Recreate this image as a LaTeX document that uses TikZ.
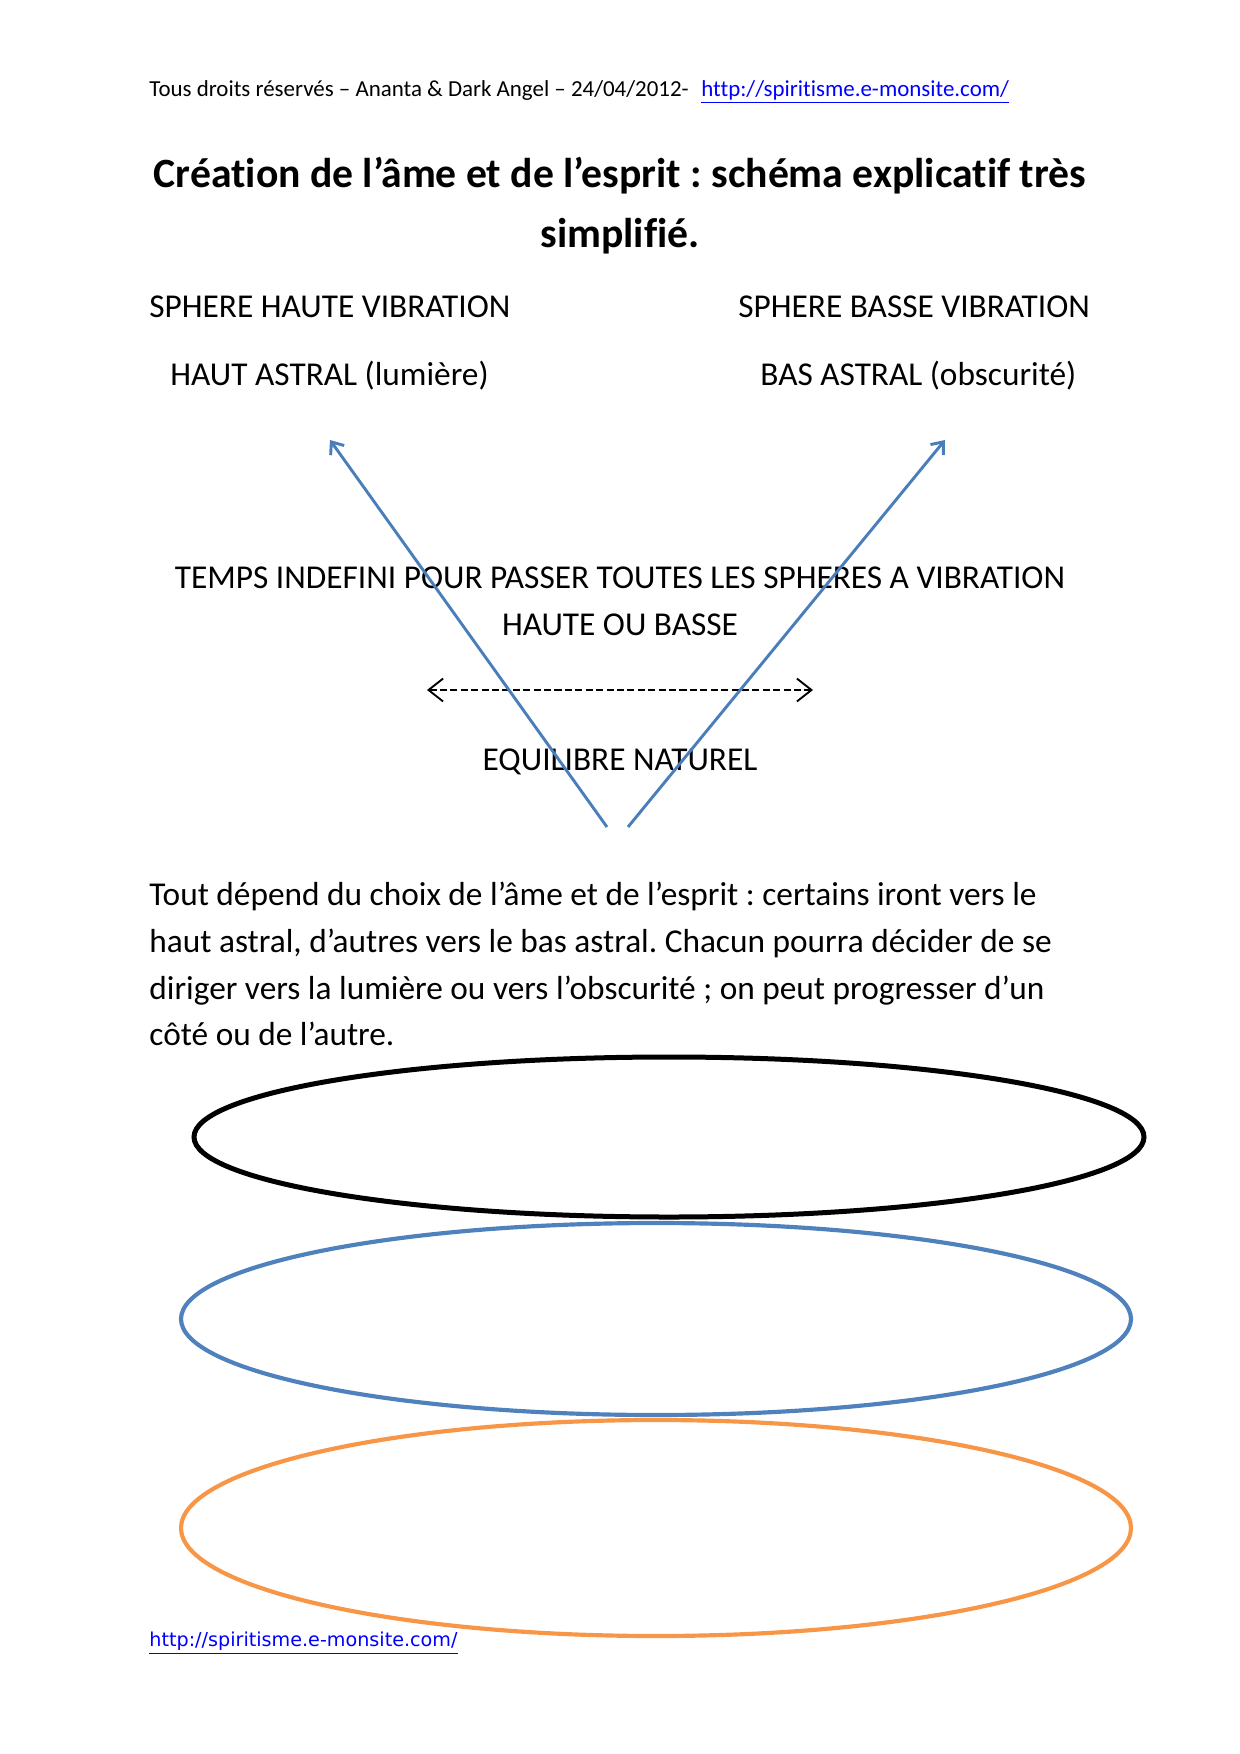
\documentclass[tikz,border=0pt]{standalone}
\usepackage{fontspec}
\setmainfont{Carlito}[RawFeature={-liga}]
\newfontfamily\footfont{DejaVu Sans}
\usetikzlibrary{arrows.meta}
\definecolor{wordblue}{HTML}{4A7EBB}
\definecolor{accblue}{HTML}{4F81BD}
\definecolor{accorange}{HTML}{F79646}
\definecolor{linkblue}{HTML}{0000FF}
\tikzset{
  txt/.style={inner sep=0pt, anchor=base west, font=\fontsize{16}{18}\selectfont},
  ctxt/.style={inner sep=0pt, anchor=base, font=\fontsize{16}{18}\selectfont},
  ttl/.style={inner sep=0pt, anchor=base, font=\fontsize{20}{24}\selectfont\bfseries},
  hdr/.style={inner sep=0pt, anchor=base west, font=\fontsize{11}{13}\selectfont},
  vline/.style={draw=wordblue, line width=1.4pt, -{Straight Barb[length=5pt,width=8pt]}},
  balance/.style={draw=black, line width=0.9pt, dash pattern=on 3.4pt off 1.6pt,
    {Straight Barb[length=7pt,width=11pt]}-{Straight Barb[length=7pt,width=11pt]}},
  orbit/.style={line width=2pt}
}
\begin{document}
\frenchspacing
\begin{tikzpicture}[x=0.48pt,y=-0.48pt]
\useasboundingbox (0,0) rectangle (1240,1754);
% header
\node[hdr] (head) at (149,96) {Tous droits réservés – Ananta \& Dark Angel – 24/04/2012-};
\node[hdr, text=linkblue] (headlink) at (701,96) {\underline{http://spiritisme.e-monsite.com/}};
% title
\node[ttl] (title1) at (620,187) {Création de l’âme et de l’esprit : schéma explicatif très};
\node[ttl] (title2) at (620,247) {simplifié.};
% spheres
\node[txt] (sphH) at (149,317) {SPHERE HAUTE VIBRATION};
\node[txt] (sphB) at (738,317) {SPHERE BASSE VIBRATION};
\node[txt] (astH) at (170,385) {HAUT ASTRAL (lumière)};
\node[txt] (astB) at (760,385) {BAS ASTRAL (obscurité)};
% middle texts
\node[ctxt] (temps1) at (620,588) {TEMPS INDEFINI POUR PASSER TOUTES LES SPHERES A VIBRATION};
\node[ctxt] (temps2) at (620,635) {HAUTE OU BASSE};
\node[ctxt] (equi) at (620,770) {EQUILIBRE NATUREL};
% dashed balance arrow
\coordinate (balL) at (427,690);
\coordinate (balR) at (813,690);
\draw[balance] (balL) -- (balR);
% V arrows
\coordinate (vL) at (607,827);
\coordinate (vR) at (628,827);
\coordinate (tipH) at (330,440);
\coordinate (tipB) at (945,440);
\draw[vline] (vL) -- (tipH);
\draw[vline] (vR) -- (tipB);
% paragraph
\node[txt] (p1) at (149,905) {Tout dépend du choix de l’âme et de l’esprit : certains iront vers le};
\node[txt] (p2) at (149,952) {haut astral, d’autres vers le bas astral. Chacun pourra décider de se};
\node[txt] (p3) at (149,999) {diriger vers la lumière ou vers l’obscurité ; on peut progresser d’un};
\node[txt] (p4) at (149,1045) {côté ou de l’autre.};
% ellipses
\draw[orbit, draw=black, line width=2.4pt] (669,1137) ellipse [x radius=475, y radius=80];
\draw[orbit, draw=accblue] (656,1319) ellipse [x radius=475, y radius=96];
\draw[orbit, draw=accorange] (656,1528) ellipse [x radius=475, y radius=108];
% footer
\node[inner sep=0pt, anchor=base west, text=linkblue, font=\footfont\fontsize{9.2}{11}\selectfont] (footlink) at (149,1646) {\underline{http://spiritisme.e-monsite.com/}};
\end{tikzpicture}
\end{document}
